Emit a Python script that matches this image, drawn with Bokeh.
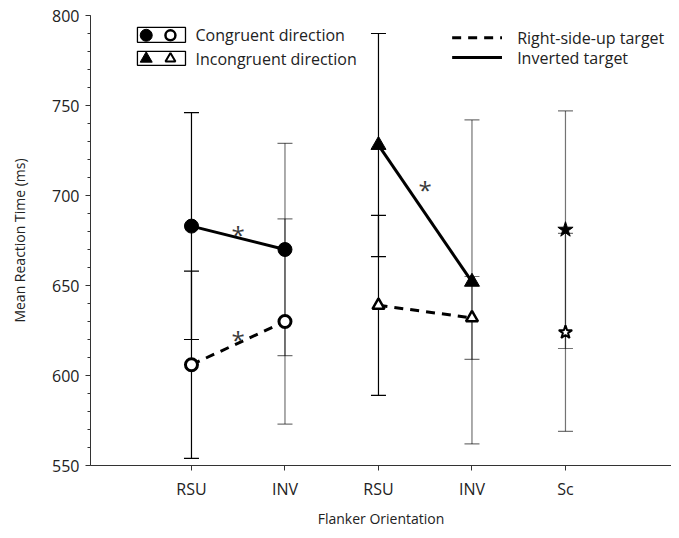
from bokeh.plotting import figure
from bokeh.models import FixedTicker, Label
from bokeh.core.properties import value
from bokeh.embed import file_html
from bokeh.resources import INLINE

# ---------------- data ----------------
tick_pos = [1, 2, 3, 4, 5]
tick_labels = ["RSU", "INV", "RSU", "INV", "Sc"]

cong_x = [1, 2]
cong_inv = [683, 670]        # filled circles, inverted target
cong_inv_err = [63, 59]
cong_rsu = [606, 630]        # open circles, right-side-up target
cong_rsu_err = [52, 57]

incong_x = [3, 4]
incong_inv = [728, 652]      # filled triangles
incong_inv_err = [62, 90]
incong_rsu = [639, 632]      # open triangles
incong_rsu_err = [50, 23]

sc_x = [5]
sc_inv = [681]               # filled star
sc_inv_err = [66]
sc_rsu = [624]               # open star
sc_rsu_err = [55]

sig_x = [1.5, 1.5, 3.5]
sig_y = [682, 624, 707]

# style per position for error bars
bar_alpha = {1: 1.0, 2: 0.55, 3: 1.0, 4: 0.55, 5: 0.55}

FONT = "Open Sans"
TXT = "#222222"

p = figure(width=671, height=530, x_range=(-0.08, 6.134), y_range=(550, 800),
           output_backend="svg", toolbar_location=None,
           min_border_left=90, min_border_right=0, min_border_top=15, min_border_bottom=63)
p.outline_line_color = None
p.grid.visible = False
p.background_fill_color = "white"

# axes
p.yaxis.ticker = FixedTicker(ticks=list(range(550, 801, 50)), minor_ticks=list(range(550, 801, 10)))
p.yaxis.axis_label = "Mean Reaction Time (ms)"
p.xaxis.ticker = FixedTicker(ticks=tick_pos)
p.xaxis.major_label_overrides = {k: v for k, v in zip(tick_pos, tick_labels)}
p.xaxis.axis_label = "Flanker Orientation"
for ax in (p.xaxis, p.yaxis):
    ax.axis_line_color = "#333333"
    ax.major_tick_line_color = "#333333"
    ax.minor_tick_line_color = "#333333"
    ax.major_tick_in = 0
    ax.minor_tick_in = 0
    ax.major_tick_out = 5
    ax.minor_tick_out = 3
    ax.major_label_text_font = FONT
    ax.major_label_text_font_size = "16px"
    ax.major_label_text_color = TXT
    ax.axis_label_text_font = FONT
    ax.axis_label_text_font_size = "14px"
    ax.axis_label_text_font_style = "normal"
    ax.axis_label_text_color = TXT
p.xaxis.minor_tick_line_color = None
p.yaxis.major_label_standoff = 6
p.yaxis.axis_label_standoff = 20
p.xaxis.major_label_standoff = 7
p.xaxis.axis_label_standoff = 6

# error bars
groups = [
    (cong_x, cong_inv, cong_inv_err), (cong_x, cong_rsu, cong_rsu_err),
    (incong_x, incong_inv, incong_inv_err), (incong_x, incong_rsu, incong_rsu_err),
    (sc_x, sc_inv, sc_inv_err), (sc_x, sc_rsu, sc_rsu_err),
]
for xs, ys, es in groups:
    lo = [y - e for y, e in zip(ys, es)]
    hi = [y + e for y, e in zip(ys, es)]
    al = [bar_alpha[x] for x in xs]
    p.segment(x0=xs, y0=lo, x1=xs, y1=hi, line_color="black", line_width=1.2, line_alpha=al)
    p.scatter(x=xs + xs, y=lo + hi, marker="dash", size=15, line_color="black",
              line_width=1.2, line_alpha=al + al)

# connecting lines
p.line(cong_x, cong_inv, line_color="black", line_width=3)
p.line(incong_x, incong_inv, line_color="black", line_width=3)
p.line(cong_x, cong_rsu, line_color="black", line_width=3, line_dash="9 7")
p.line(incong_x, incong_rsu, line_color="black", line_width=3, line_dash="9 7")

# markers
p.scatter(cong_x, cong_inv, marker="circle", size=14, fill_color="black", line_color="black")
p.scatter(cong_x, cong_rsu, marker="circle", size=12, fill_color="white", line_color="black", line_width=3)
p.scatter(incong_x, incong_inv, marker="triangle", size=15, fill_color="black", line_color="black")
p.scatter(incong_x, incong_rsu, marker="triangle", size=12, fill_color="white", line_color="black", line_width=2.5)
p.scatter(sc_x, sc_inv, marker="star", size=16, fill_color="black", line_color="black")
p.scatter(sc_x, sc_rsu, marker="star", size=14, fill_color="white", line_color="black", line_width=2)

# significance asterisks
p.text(x=sig_x, y=sig_y, text=["*"] * len(sig_x), text_align="center", text_baseline="middle",
       text_font=value(FONT), text_font_size="24px", text_color="#3a3a3a", y_offset=7)

# ---------------- legend (marker shapes) ----------------
p.quad(left=[0.422, 0.422], right=[0.936, 0.936], bottom=[785.1, 772.3], top=[793.4, 780.1],
       fill_color=None, line_color="black", line_width=1.3)
p.scatter([0.516], [789.0], marker="circle", size=12, fill_color="black", line_color="black")
p.scatter([0.775], [789.0], marker="circle", size=10, fill_color="white", line_color="black", line_width=2.5)
p.scatter([0.516], [776.0], marker="triangle", size=12, fill_color="black", line_color="black")
p.scatter([0.775], [776.0], marker="triangle", size=10, fill_color="white", line_color="black", line_width=2)
for yy, t in ((789.0, "Congruent direction"), (776.0, "Incongruent direction")):
    p.add_layout(Label(x=1.043, y=yy, text=t, text_baseline="middle", text_font=FONT,
                       text_font_size="16px", text_color=TXT))

# legend (line styles)
p.line([3.788, 4.321], [787.6, 787.6], line_color="black", line_width=3, line_dash="9 7")
p.line([3.788, 4.321], [776.6, 776.6], line_color="black", line_width=3)
for yy, t in ((787.6, "Right-side-up target"), (776.6, "Inverted target")):
    p.add_layout(Label(x=4.483, y=yy, text=t, text_baseline="middle", text_font=FONT,
                       text_font_size="16px", text_color=TXT))

open("out.html", "w").write(file_html(p, INLINE))
